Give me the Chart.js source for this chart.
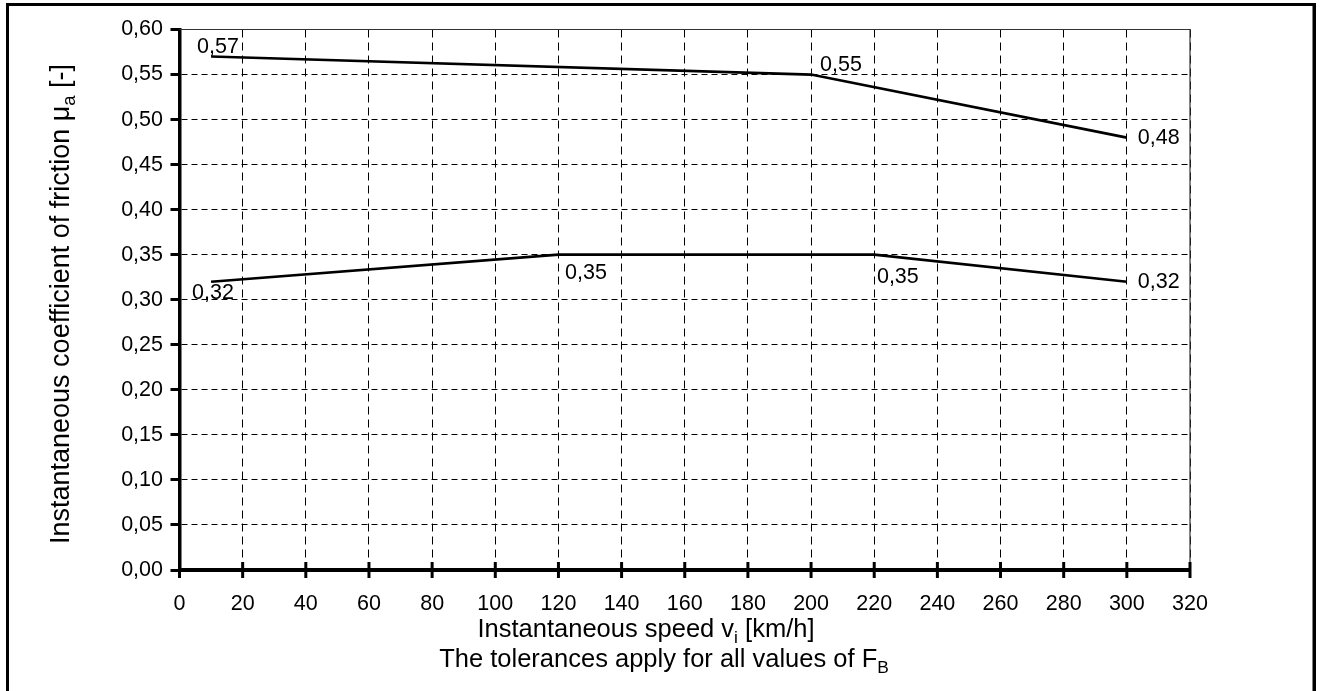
<!DOCTYPE html>
<html>
<head>
<meta charset="utf-8">
<script src="https://cdn.jsdelivr.net/npm/chart.js@4.4.1/dist/chart.umd.min.js"></script>
<style>
html,body{margin:0;padding:0;background:#fff;overflow:hidden}
#wrap{width:1320px;height:691px}
</style>
</head>
<body>
<div id="wrap"><canvas id="c"></canvas></div>
<script>
// tolerance band: speed [km/h] -> instantaneous coefficient of friction
const upperSpeed=[10,200,300];
const upperMu=[0.57,0.55,0.48];
const lowerSpeed=[10,120,220,300];
const lowerMu=[0.32,0.35,0.35,0.32];

const xTicks=[0,20,40,60,80,100,120,140,160,180,200,220,240,260,280,300,320];
const yTicks=[0,0.05,0.10,0.15,0.20,0.25,0.30,0.35,0.40,0.45,0.50,0.55,0.60];

// where each value label sits relative to its point (px)
const upperLabelOffset=[[-14,-9],[9,-9],[11,0]];
const lowerLabelOffset=[[-19,11.5],[6.6,18.6],[2.7,22.6],[11,0.5]];

const FONT="'Liberation Sans', Arial, sans-serif";
const fmt=v=>v.toFixed(2).replace('.',',');

function pts(xs,ys){return xs.map((x,i)=>({x:x,y:ys[i]}));}

// text with subscripts: parts = [[text, isSub], ...]
function richWidth(ctx,parts,size){
 let w=0;
 parts.forEach(p=>{
  ctx.font=(p[1]?size*0.68:size)+'px '+FONT;
  w+=ctx.measureText(p[0]).width;
 });
 return w;
}
function drawRich(ctx,parts,x,y,size){
 let cx=x;
 parts.forEach(p=>{
  ctx.font=(p[1]?size*0.68:size)+'px '+FONT;
  ctx.fillText(p[0],cx,p[1]?y+size*0.24:y);
  cx+=ctx.measureText(p[0]).width;
 });
}

const decor={
 id:'decor',
 beforeDraw(chart){
  const c=chart.ctx;
  c.save();
  c.fillStyle='#fff';
  c.fillRect(0,0,chart.width,chart.height);
  c.restore();
 },
 afterDraw(chart){
  const c=chart.ctx, a=chart.chartArea;
  const xs=chart.scales.x, ys=chart.scales.y;
  c.save();
  // outer frame
  c.fillStyle='#000';
  c.fillRect(6,3,3,720);
  c.fillRect(6,3,1310,3);
  c.fillRect(1312.5,3,3.5,720);
  // plot frame top/right
  c.strokeStyle='#333';
  c.lineWidth=1.2;
  c.beginPath();
  c.moveTo(a.left,a.top);c.lineTo(a.right,a.top);c.lineTo(a.right,a.bottom);
  c.stroke();
  // x ticks crossing the axis
  c.strokeStyle='#000';
  c.lineWidth=3;
  xTicks.forEach(v=>{
   const px=xs.getPixelForValue(v);
   c.beginPath();c.moveTo(px,a.bottom-8);c.lineTo(px,a.bottom+8);c.stroke();
  });
  // value labels
  c.fillStyle='#000';
  c.textAlign='left';
  c.textBaseline='middle';
  c.font='21.5px '+FONT;
  [[upperSpeed,upperMu,upperLabelOffset],[lowerSpeed,lowerMu,lowerLabelOffset]].forEach(s=>{
   s[0].forEach((v,i)=>{
    const px=xs.getPixelForValue(v), py=ys.getPixelForValue(s[1][i]);
    c.fillText(fmt(s[1][i]),px+s[2][i][0],py+s[2][i][1]);
   });
  });
  // axis titles
  c.textBaseline='alphabetic';
  const t1=[['Instantaneous speed v',0],['i',1],[' [km/h]',0]];
  const t2=[['The tolerances apply for all values of F',0],['B',1]];
  drawRich(c,t1,646-richWidth(c,t1,25.5)/2,637,25.5);
  drawRich(c,t2,664-richWidth(c,t2,25.5)/2,667,25.5);
  const t3=[['Instantaneous coefficient of friction \u03bc',0],['a',1],[' [-]',0]];
  c.translate(69,304);
  c.rotate(-Math.PI/2);
  drawRich(c,t3,-richWidth(c,t3,27)/2,0,27);
  c.restore();
 }
};

new Chart(document.getElementById('c'),{
 type:'line',
 data:{
  datasets:[{
   label:'upper',
   data:pts(upperSpeed,upperMu),
   borderColor:'#000',
   borderWidth:2.7,
   pointRadius:0,
   tension:0
  },{
   label:'lower',
   data:pts(lowerSpeed,lowerMu),
   borderColor:'#000',
   borderWidth:2.7,
   pointRadius:0,
   tension:0
  }]
 },
 options:{
  responsive:true,
  maintainAspectRatio:false,
  animation:false,
  layout:{padding:{left:0,top:29.5,right:130,bottom:0}},
  plugins:{legend:{display:false},tooltip:{enabled:false}},
  scales:{
   x:{
    type:'linear',
    min:0,max:320,
    afterBuildTicks:s=>{s.ticks=xTicks.map(v=>({value:v}));},
    afterFit:s=>{s.height=121;},
    grid:{color:'#000',lineWidth:1,drawTicks:false},
    border:{color:'#000',width:4,dash:[8,5]},
    ticks:{color:'#000',padding:21,autoSkip:false,maxRotation:0,font:{family:FONT,size:21.5},callback:v=>String(v)}
   },
   y:{
    min:0,max:0.6,
    afterBuildTicks:s=>{s.ticks=yTicks.map(v=>({value:v}));},
    afterFit:s=>{s.width=179.5;},
    grid:{color:'#000',lineWidth:1,tickLength:9,tickWidth:3,tickColor:'#000'},
    border:{color:'#000',width:3.5,dash:[6,4]},
    ticks:{color:'#000',padding:7.5,autoSkip:false,font:{family:FONT,size:21.5},callback:v=>fmt(v)}
   }
  }
 },
 plugins:[decor]
});
</script>
</body>
</html>
